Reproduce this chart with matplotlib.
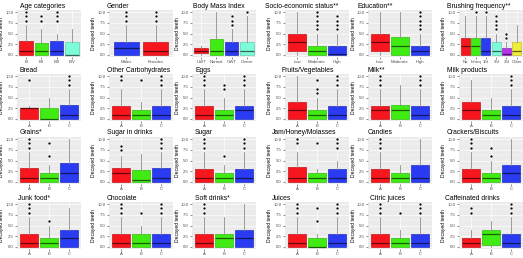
import numpy as np
import matplotlib
matplotlib.use("Agg")
import matplotlib.pyplot as plt
from matplotlib.colors import to_rgb

plt.rcParams.update({
    "font.family": "Liberation Sans", "font.size": 5,
    "axes.linewidth": 0, "xtick.major.size": 1.5, "ytick.major.size": 1.5,
    "xtick.major.width": 0.4, "ytick.major.width": 0.4,
    "xtick.color": "#333333", "ytick.color": "#333333",
    "xtick.labelcolor": "#4D4D4D", "ytick.labelcolor": "#4D4D4D",
})

# ---- data ----
titles = ["Age categories", "Gender", "Body Mass Index", "Socio-economic status**",
          "Education**", "Brushing frequency**",
          "Bread", "Other Carbohydrates", "Eggs", "Fruits/Vegetables", "Milk**", "Milk products",
          "Grains*", "Sugar in drinks", "Sugar", "Jam/Honey/Molasses", "Candies",
          "Crackers/Biscuits",
          "Junk food*", "Chocolate", "Soft drinks*", "Juices", "Citric juices",
          "Caffeinated drinks"]
ABC = ["A", "B", "C"]
cats = [["BI", "BII", "BIII", "BIV"], ["Males", "Females"],
        ["UWT", "Normal", "OWT", "Obese"], ["Low", "Moderate", "High"],
        ["Low", "Moderate", "High"], ["No", "Infreq", "1/d", "2/d", "3/d", "Other"]] + [ABC] * 18
fills = [["r", "g", "b", "c"], ["b", "r"], ["r", "g", "b", "c"], ["r", "g", "b"],
         ["r", "g", "b"], ["r", "g", "b", "c", "p", "y"]] + [["r", "g", "b"]] * 18

q1 = [[0, 0, 0, 0], [0, 0], [0.5, 0, 0, 0], [1, 0, 0], [1, 0, 0], [0, 0, 0, 0, 0, 0],
      [0, 0, 0], [0, 0, 0], [0, 0, 0], [0, 0, 0], [0, 0, 0], [0, 0, 0],
      [0, 0, 0], [0, 0, 0], [0, 0, 0], [0, 0, 0], [0, 0, 0], [0, 0, 0],
      [0, 0, 0], [0, 0, 0], [0, 0, 0], [0, 0, 0], [0, 0, 0], [0, 0.5, 0]]
med = [[1, 1, 1, 0], [1.5, 1], [1, 1, 1, 1], [3, 1, 0.3], [3, 2, 1], [2, 2, 1, 1, 0.2, 1],
       [2.5, 0, 1], [1, 1, 1], [1, 1, 2], [2, 1, 1], [2, 2, 1], [2, 1, 1],
       [1, 1, 2], [2, 0.5, 1], [1, 1, 1], [1, 1, 1], [1, 1, 1], [1, 1, 2],
       [1, 1, 2], [1, 1, 1], [1, 2, 2], [1, 0, 1], [1, 1, 1], [1, 3, 1]]
q3 = [[3.2, 2.8, 3.3, 3], [3, 3], [1.5, 3.8, 3, 3], [5, 2, 2], [5, 4.2, 2], [4, 4, 4, 3, 1.5, 3],
      [2.6, 2.5, 3.3], [3, 2, 3], [3, 2, 3], [4, 2, 3], [3, 3.3, 3], [4, 2, 3],
      [3.3, 2, 4.5], [3.2, 2.8, 3.2], [3, 2, 3], [3.5, 2, 3], [3, 2, 4], [3, 2, 4],
      [3, 2, 4], [3, 3, 3], [3, 3, 4], [3, 2, 3], [3, 2, 3], [2, 4, 3]]
whi = [[7, 6, 5, 6], [7, 7], [2, 10, 6, 9], [10, 5, 5], [10, 10, 5], [9, 9, 9, 5, 3, 7],
       [3, 5, 7], [7, 4, 7], [7, 5, 7], [10, 5, 7], [7, 8, 7], [9, 5, 7],
       [7, 4, 10], [6, 6.5, 7], [7, 4, 7], [7, 3, 5], [7, 4, 10], [7, 5, 10],
       [7, 5, 9], [7, 5, 7], [7, 7, 10], [7, 3, 7], [7, 4, 7], [4, 6, 7]]
whlo = 0  # every group reaches zero decayed teeth
T = [8, 9, 10]
fliers = [[T, [8, 9], T, []], [T, T], [[], [], [7, 8, 9], [10]], [[], [6, 7, 8, 9, 10], [6, 7, 8, 9]],
          [[], [], [6, 7, 8, 9, 10]], [[], [10], [10], [6, 7, 8, 9], [4, 5], []],
          [[9], [], T], [[9, 10], [9], T], [T, [7, 8], T], [[], [6, 7, 9], T], [T, [], T], [[], [], T],
          [T, [6, 9], []], [[7.5, 8.5], [], T], [T, [6], T], [[9, 10], [9], T], [T, [], []],
          [T, [6, 8], []],
          [T, [6], []], [T, [8], T], [T, [], []], [T, [6, 9], T], [T, [8], T], [[8, 9], [], T]]

PAL = {"r": "#F8161E", "g": "#3FEB12", "b": "#2B3BF2", "c": "#7DFCD9",
       "p": "#B833EE", "y": "#EEEE3A"}


def shade(c, f):
    return tuple(np.array(to_rgb(c)) * f)


W, H = 523, 258
fig = plt.figure(figsize=(W / 100, H / 100), dpi=100)
lefts = [17, 109, 192, 285, 368, 459]
tops = [10, 74, 137, 202]
pw, ph = 64, 47
# title left edges in pixels, as placed in the reference
title_x = [[20, 107, 193, 265, 357, 447],
           [20, 107, 196, 282, 368, 447],
           [20, 107, 195, 272, 368, 447],
           [18, 107, 195, 272, 370, 445]]

for i, t in enumerate(titles):
    r, c = divmod(i, 6)
    ax = fig.add_axes([lefts[c] / W, 1 - (tops[r] + ph) / H, pw / W, ph / H])
    ax.set_facecolor("#EBEBEB")
    n = len(cats[i])
    stats = [dict(med=med[i][k], q1=q1[i][k], q3=q3[i][k], whislo=whlo,
                  whishi=whi[i][k], fliers=fliers[i][k]) for k in range(n)]
    bp = ax.bxp(stats, positions=np.arange(1, n + 1), widths=0.88, patch_artist=True,
                showcaps=False,
                whiskerprops=dict(color="#8C8C8C", lw=0.6),
                flierprops=dict(marker="o", ms=1.6, mfc="black", mec="black", mew=0),
                boxprops=dict(lw=0.5), medianprops=dict(lw=0.9))
    for k, key in enumerate(fills[i]):
        col = PAL[key]
        bp["boxes"][k].set_facecolor(col)
        bp["boxes"][k].set_edgecolor(shade(col, 0.8))
        bp["medians"][k].set_color(shade(col, 0.4))
    ax.set_xlim(0.4, n + 0.6)
    ax.set_ylim(-0.5, 10.5)
    ax.set_yticks([0, 2.5, 5, 7.5, 10])
    ax.set_yticklabels(["0.0", "2.5", "5.0", "7.5", "10.0"])
    ax.set_yticks([1.25, 3.75, 6.25, 8.75], minor=True)
    ax.set_xticks(np.arange(1, n + 1))
    ax.set_xticklabels(cats[i])
    ax.tick_params(axis="both", which="major", labelsize=3.1, pad=1)
    ax.tick_params(axis="y", which="minor", length=0)
    ax.grid(True, which="major", color="white", lw=0.5)
    ax.grid(True, which="minor", axis="y", color="white", lw=0.25)
    ax.set_axisbelow(True)
    for s in ax.spines.values():
        s.set_visible(False)
    ax.set_ylabel("Decayed teeth", fontsize=3.6)
    ax.yaxis.set_label_coords(-12.5 / pw, 0.5)
    fig.text(title_x[r][c] / W, 1 - (tops[r] - 2.5) / H, t, fontsize=4.9,
             ha="left", va="baseline")

fig.savefig("out.png", dpi=100)
